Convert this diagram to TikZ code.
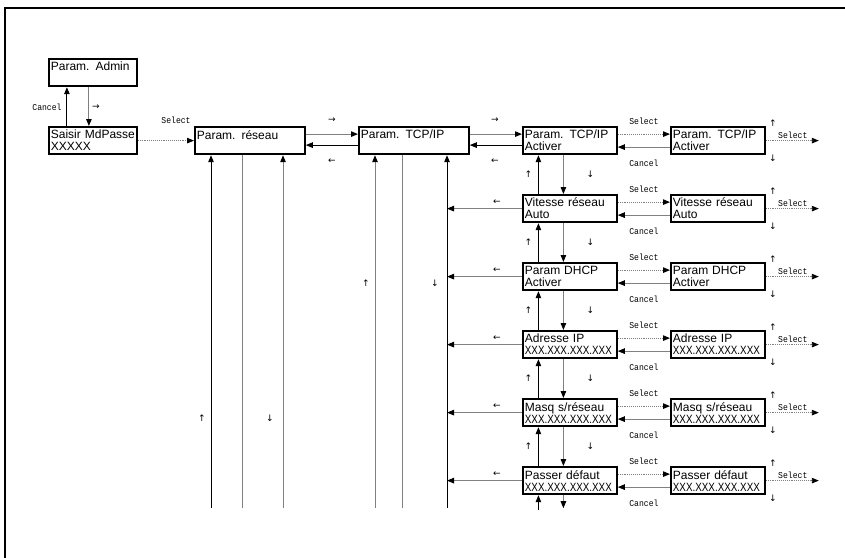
\documentclass[tikz,border=0pt]{standalone}
\usepackage{fontspec}
\setmainfont{Liberation Sans}
\newfontfamily\boxfont{Liberation Sans}
\newfontfamily\xfont[FakeStretch=0.82]{Liberation Sans}
\newfontfamily\smallfont[FakeStretch=0.9]{Liberation Mono}
\newfontfamily\symfont{DejaVu Sans}
\usetikzlibrary{arrows.meta,calc}
\tikzset{
  screen/.style={draw, line width=2.2pt, anchor=north west, inner xsep=1.8pt,
    inner ysep=1pt, text width=#1, minimum height=27pt, align=left,
    font={\boxfont\fontsize{12}{12}\selectfont}},
  conn/.style={line width=1pt, black},
  gconn/.style={line width=1pt, gray},
  dotconn/.style={line width=0.9pt, gray, densely dotted},
  lbl/.style={inner sep=0pt, font={\smallfont\fontsize{9}{9}\selectfont}},
  arr/.style={inner sep=0pt, font={\symfont\fontsize{9}{9}\selectfont}},
}
\begin{document}
\begin{tikzpicture}[x=1pt, y=-1pt, >={Triangle[length=7pt,width=5.5pt,color=black]}]
  \useasboundingbox (0,0) rectangle (845,557);
  % outer frame (top and left edge only)
  \draw[line width=2pt] (5,570) -- (5,8) -- (860,8);
  % screens, first columns
  \node[screen=84pt]  (admin) at (48,58)   {\mbox{Param. Admin}\\\mbox{}};
  \node[screen=84pt]  (pass)  at (48,126)  {\mbox{Saisir MdPasse}\\\mbox{XXXXX}};
  \node[screen=106pt] (net)   at (194,126) {\mbox{Param. réseau}\\\mbox{}};
  \node[screen=106pt] (tcp)   at (358,126) {\mbox{Param. TCP/IP}\\\mbox{}};
  % screens, TCP/IP menu
  \node[screen=90pt] (r1) at (522,126) {\mbox{Param. TCP/IP}\\\mbox{Activer}};
  \node[screen=90pt] (r2) at (522,194) {\mbox{Vitesse réseau}\\\mbox{Auto}};
  \node[screen=90pt] (r3) at (522,262) {\mbox{Param DHCP}\\\mbox{Activer}};
  \node[screen=90pt] (r4) at (522,330) {\mbox{Adresse IP}\\\mbox{\xfont XXX.XXX.XXX.XXX}};
  \node[screen=90pt] (r5) at (522,398) {\mbox{Masq s/réseau}\\\mbox{\xfont XXX.XXX.XXX.XXX}};
  \node[screen=90pt] (r6) at (522,466) {\mbox{Passer défaut}\\\mbox{\xfont XXX.XXX.XXX.XXX}};
  % screens, setting values
  \node[screen=90pt] (s1) at (670,126) {\mbox{Param. TCP/IP}\\\mbox{Activer}};
  \node[screen=90pt] (s2) at (670,194) {\mbox{Vitesse réseau}\\\mbox{Auto}};
  \node[screen=90pt] (s3) at (670,262) {\mbox{Param DHCP}\\\mbox{Activer}};
  \node[screen=90pt] (s4) at (670,330) {\mbox{Adresse IP}\\\mbox{\xfont XXX.XXX.XXX.XXX}};
  \node[screen=90pt] (s5) at (670,398) {\mbox{Masq s/réseau}\\\mbox{\xfont XXX.XXX.XXX.XXX}};
  \node[screen=90pt] (s6) at (670,466) {\mbox{Passer défaut}\\\mbox{\xfont XXX.XXX.XXX.XXX}};

  % admin <-> password
  \draw[conn,->]  ([xshift=-26pt]pass.north) -- ([xshift=-26pt]admin.south);
  \draw[gconn,->] ([xshift=-4pt]admin.south) -- ([xshift=-4pt]pass.north);
  \node[lbl] (lcan0) at (47,107) {Cancel};
  \node[arr] (ar0)   at (96,107) {→};
  % password -> network
  \draw[dotconn,->] (pass.east) -- (net.west);
  \node[lbl] (lsel0) at (176,120) {Select};
  % network <-> TCP/IP
  \draw[gconn,->] ([yshift=6.5pt]net.east) -- ([yshift=6.5pt]tcp.west);
  \draw[conn,->]  ([yshift=-4.5pt]tcp.west) -- ([yshift=-4.5pt]net.east);
  \node[arr] (ar1) at (332,120) {→};
  \node[arr] (ar2) at (332,161) {←};
  % TCP/IP <-> first item
  \draw[gconn,->] ([yshift=6.5pt]tcp.east) -- ([yshift=6.5pt]r1.west);
  \draw[conn,->]  ([yshift=-4.5pt]r1.west) -- ([yshift=-4.5pt]tcp.east);
  \node[arr] (ar3) at (495,120) {→};
  \node[arr] (ar4) at (495,161) {←};

  % lines coming back from below
  \coordinate (na) at (211,508);
  \coordinate (nb) at (242,508);
  \coordinate (nc) at (283,508);
  \coordinate (ta) at (375,508);
  \coordinate (tb) at (402,508);
  \coordinate (trunk) at (447,508);
  \draw[conn,->]  (na) -- (na |- net.south);
  \draw[gconn]    (nb) -- (nb |- net.south);
  \draw[gconn,->] (nc) -- (nc |- net.south);
  \draw[gconn,->] (ta) -- (ta |- tcp.south);
  \draw[gconn]    (tb) -- (tb |- tcp.south);
  \draw[conn,->]  (trunk) -- (trunk |- tcp.south);
  \node[arr] (ar5) at (202,418) {↑};
  \node[arr] (ar6) at (270,418) {↓};
  \node[arr] (ar7) at (366,283) {↑};
  \node[arr] (ar8) at (435,283) {↓};

  % items: select / cancel and onward select
  \foreach \i in {1,...,6} {
    \draw[dotconn,->] ([yshift=6.5pt]r\i.east) -- ([yshift=6.5pt]s\i.west);
    \draw[gconn,->] ([yshift=-6.5pt]s\i.west) -- ([yshift=-6.5pt]r\i.east);
    \node[lbl] (lsel\i) at ($(r\i.north east)!0.5!(s\i.north west)+(0,-5)$) {Select};
    \node[lbl] (lcan\i) at ($(r\i.south east)!0.5!(s\i.south west)+(0,8)$) {Cancel};
    \draw[dotconn,->] (s\i.east) -- ++(53,0);
    \node[lbl] (lout\i) at ([xshift=27pt,yshift=5pt]s\i.east) {Select};
    \node[arr] (up\i) at ([xshift=7pt,yshift=3pt]s\i.north east) {↑};
    \node[arr] (dn\i) at ([xshift=7pt,yshift=-3pt]s\i.south east) {↓};
  }
  % items: up / down between them
  \foreach \i/\j in {1/2,2/3,3/4,4/5,5/6} {
    \draw[conn,->]  ([xshift=-31.5pt]r\j.north) -- ([xshift=-31.5pt]r\i.south);
    \draw[gconn,->] ([xshift=-6.5pt]r\i.south) -- ([xshift=-6.5pt]r\j.north);
    \node[arr] (mu\i) at ($(r\i.south)!0.5!(r\j.north)+(-41.5,0)$) {↑};
    \node[arr] (md\i) at ($(r\i.south)!0.5!(r\j.north)+(20.5,0)$) {↓};
  }
  \foreach \i in {2,...,6} {
    \draw[gconn,->] (r\i.west) -- (r\i.west -| trunk);
    \node[arr] (lf\i) at ([xshift=-25pt,yshift=6pt]r\i.west) {←};
  }
  % last item: stubs below
  \draw[conn,->]  ([xshift=-31.5pt,yshift=-15pt]r6.south) -- ([xshift=-31.5pt]r6.south);
  \draw[gconn,->] ([xshift=-6.5pt]r6.south) -- ([xshift=-6.5pt,yshift=-13pt]r6.south);
\end{tikzpicture}
\end{document}
